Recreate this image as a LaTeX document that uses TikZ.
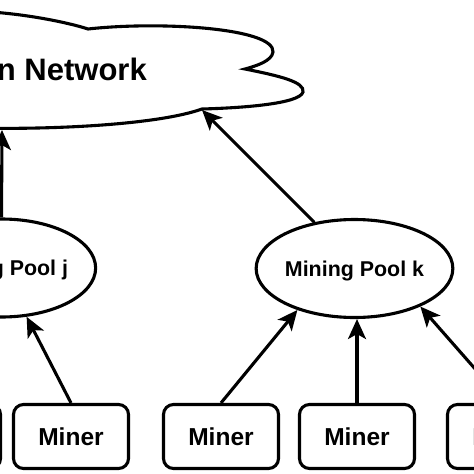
\documentclass[tikz,border=0pt]{standalone}
\usepackage{fontspec}
\setmainfont{Liberation Sans}
\usetikzlibrary{shapes.geometric,arrows.meta}
\tikzset{
  lw/.style={line width=3.1pt},
  pool/.style={lw,draw,ellipse,minimum width=183pt,minimum height=98pt,inner sep=0pt,
    font=\fontsize{21.4}{24}\selectfont\bfseries,text depth=0pt},
  minerbox/.style={lw,draw,rounded corners=10pt,minimum width=115pt,minimum height=64pt,inner sep=0pt,
    font=\fontsize{24.5}{28}\selectfont\bfseries},
  arr/.style={lw,-{Stealth[length=20pt,width=18pt,inset=5pt]}},
  cloudtext/.style={font=\fontsize{31}{34}\selectfont\bfseries,inner sep=0pt,anchor=base east}
}
\begin{document}
\begin{tikzpicture}[x=1pt,y=-1pt]
\useasboundingbox (0,0) rectangle (474,474);
\clip (0,0) rectangle (474,474);
% cloud
\draw[lw] (-30,11) .. controls (20,12) and (70,23) .. (88,29)
  .. controls (160,21) and (275,28) .. (273,52)
  .. controls (272,61) and (256,66) .. (245,69)
  .. controls (280,76) and (305,82) .. (303,92)
  .. controls (300,104) and (240,108) .. (202,109)
  .. controls (160,124) and (60,130) .. (-30,128);
\node[cloudtext] (ct) at (147,80) {n Network};
\coordinate (cn) at (202,110);
\coordinate (cb) at (2,130);
% pools
\node[pool] (pj) at (1.5,268) {Mining Pool j};
\node[pool] (pk) at (354.5,268.5) {Mining Pool k};
% miners
\node[minerbox] (m0) at (-57,436.5) {Miner};
\node[minerbox] (m1) at (71,436.5) {Miner};
\node[minerbox] (m2) at (221,436.5) {Miner};
\node[minerbox] (m3) at (357,436.5) {Miner};
\node[minerbox] (m4) at (505,436.5) {Miner};
% connectors
\draw[arr] (pj.north) -- (cb);
\draw[arr] (pk.131) -- (cn);
\draw[arr] (m1.north) -- (pj);
\draw[arr] (m2.north) -- (pk.216);
\draw[arr] (m3.north) -- (m3.north |- pk.south);
\draw[arr] (m4.north) -- (pk.330);
\end{tikzpicture}
\end{document}
